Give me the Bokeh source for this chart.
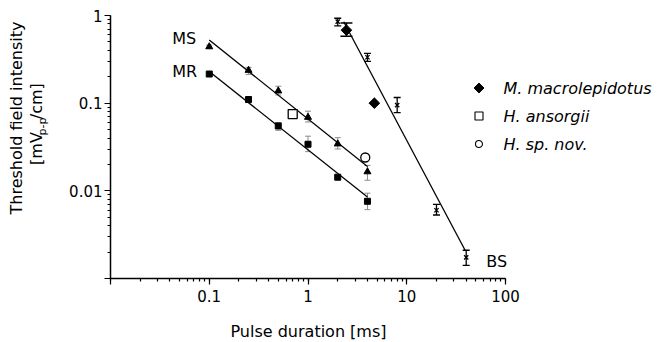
import math
from bokeh.plotting import figure
from bokeh.layouts import column, row
from bokeh.models import (ColumnDataSource, Whisker, TeeHead, Label, Range1d,
                          LogTicker, CustomJSTickFormatter)
from bokeh.embed import file_html
from bokeh.resources import INLINE

# ---------------- data ----------------
dur = [0.1, 0.25, 0.5, 1, 2, 4]
ms_y = [0.44, 0.237, 0.138, 0.069, 0.0343, 0.0165]
ms_lo = [0.42, 0.213, 0.124, 0.061, 0.030, 0.0132]
ms_hi = [0.46, 0.256, 0.156, 0.081, 0.0404, 0.0195]
mr_y = [0.215, 0.11, 0.055, 0.034, 0.0143, 0.0076]
mr_lo = [0.205, 0.103, 0.049, 0.028, 0.0137, 0.0061]
mr_hi = [0.226, 0.117, 0.060, 0.042, 0.0150, 0.0094]
ms_fit_x = [0.1, 4]
ms_fit_y = [0.526, 0.019]
mr_fit_x = [0.1, 4]
mr_fit_y = [0.23, 0.0085]

bs_x = [2, 4, 8, 20, 40]
bs_y = [0.85, 0.334, 0.095, 0.006, 0.00174]
bs_lo = [0.76, 0.30, 0.078, 0.0053, 0.00141]
bs_hi = [0.93, 0.37, 0.116, 0.0070, 0.0021]
bs_fit_x = [2.3, 39]
bs_fit_y = [0.85, 0.0021]

macro_x = [2.45, 4.7]
macro_y = [0.68, 0.10]
macro_err_x = [2.45]
macro_err_lo = [0.58]
macro_err_hi = [0.82]
ans_x = [0.7]
ans_y = [0.075]
nov_x = [3.8]
nov_y = [0.024]

species = ["M. macrolepidotus", "H. ansorgii", "H. sp. nov."]
group_labels = ["MS", "MR", "BS"]
x_bounds = (0.01, 100)
y_bounds = (0.001, 1)

# ---------------- layout geometry (page pixels) ----------------
TOTAL_W, TOTAL_H = 657, 342
LEFT_W = 64                # strip holding the y-axis title
FRAME_L, FRAME_T, FRAME_B, AXIS_R = 110, 15, 278, 505
MAIN_H = 308
MAIN_W = TOTAL_W - LEFT_W
FONT = "DejaVu Sans"

px_per_dec_x = (AXIS_R - FRAME_L) / (math.log10(x_bounds[1]) - math.log10(x_bounds[0]))
frame_w = MAIN_W - (FRAME_L - LEFT_W)
x_end = 10 ** (math.log10(x_bounds[0]) + frame_w / px_per_dec_x)
frame_h = FRAME_B - FRAME_T

p = figure(width=MAIN_W, height=MAIN_H, x_axis_type="log", y_axis_type="log",
           x_range=Range1d(x_bounds[0], x_end), y_range=Range1d(*y_bounds),
           output_backend="svg", toolbar_location=None, title=None,
           min_border_left=FRAME_L - LEFT_W, min_border_right=0,
           min_border_top=FRAME_T, min_border_bottom=MAIN_H - FRAME_B)
p.outline_line_color = None
p.grid.visible = False


def at(px, py):
    """page pixel -> data coordinates of the main plot (for text / key placement)"""
    lx0 = math.log10(x_bounds[0])
    ly0, ly1 = math.log10(y_bounds[0]), math.log10(y_bounds[1])
    x = 10 ** (lx0 + (px - FRAME_L) / px_per_dec_x)
    y = 10 ** (ly1 - (py - FRAME_T) / frame_h * (ly1 - ly0))
    return x, y


p.xaxis.ticker = LogTicker(num_minor_ticks=10)
p.yaxis.ticker = LogTicker(num_minor_ticks=10)
p.xaxis.formatter = CustomJSTickFormatter(
    code="return tick < 0.015 ? '' : String(Number(tick.toPrecision(6)));")
p.yaxis.formatter = CustomJSTickFormatter(
    code="return tick < 0.0015 ? '' : String(Number(tick.toPrecision(6)));")
p.xaxis.bounds = x_bounds
p.yaxis.bounds = y_bounds
for ax, so in ((p.xaxis, 5), (p.yaxis, 2)):
    ax.axis_line_width = 1.5
    ax.axis_line_color = "black"
    ax.major_tick_out = 6
    ax.major_tick_in = 0
    ax.minor_tick_out = 3
    ax.minor_tick_in = 0
    ax.major_tick_line_width = 1.2
    ax.minor_tick_line_width = 1.2
    ax.major_label_text_font = FONT
    ax.major_label_text_font_size = "15px"
    ax.major_label_text_color = "black"
    ax.major_label_standoff = so

# ---------------- error bars ----------------
ms_src = ColumnDataSource(dict(x=dur, y=ms_y, lo=ms_lo, hi=ms_hi))
mr_src = ColumnDataSource(dict(x=dur, y=mr_y, lo=mr_lo, hi=mr_hi))
bs_src = ColumnDataSource(dict(x=bs_x, y=bs_y, lo=bs_lo, hi=bs_hi))
mac_err_src = ColumnDataSource(dict(x=macro_err_x, lo=macro_err_lo, hi=macro_err_hi))

for src, col, cap, lw in ((ms_src, "#8c8c8c", 6, 1), (mr_src, "#8c8c8c", 6, 1),
                          (bs_src, "black", 7, 1.3), (mac_err_src, "black", 12, 1.5)):
    p.add_layout(Whisker(base="x", lower="lo", upper="hi", source=src, dimension="height",
                         line_color=col, line_width=lw,
                         upper_head=TeeHead(size=cap, line_color=col, line_width=lw),
                         lower_head=TeeHead(size=cap, line_color=col, line_width=lw)))

# ---------------- fit lines ----------------
for fx, fy in ((ms_fit_x, ms_fit_y), (mr_fit_x, mr_fit_y), (bs_fit_x, bs_fit_y)):
    p.line(fx, fy, line_color="black", line_width=1.3)

# ---------------- markers ----------------
p.scatter("x", "y", source=ms_src, marker="triangle", size=7, fill_color="black", line_color="black")
p.scatter("x", "y", source=mr_src, marker="square", size=6, fill_color="black", line_color="black")
p.scatter("x", "y", source=bs_src, marker="x", size=6, line_color="black", line_width=1.3)

mac_style = dict(marker="square", angle=math.pi / 4, size=7.5, fill_color="black", line_color="black")
ans_style = dict(marker="square", size=9, fill_color="white", line_color="black", line_width=1.3)
nov_style = dict(marker="circle", size=9, fill_color="white", line_color="black", line_width=1.3)
p.scatter(macro_x, macro_y, **mac_style)
p.scatter(ans_x, ans_y, **ans_style)
p.scatter(nov_x, nov_y, **nov_style)

# ---------------- key (legend) ----------------
key_styles = [dict(mac_style, size=7), dict(ans_style, size=8, line_width=1.1),
              dict(nov_style, size=7, line_width=1.1)]
key_rows_py = [87.5, 115.5, 143.5]
for name, st, py in zip(species, key_styles, key_rows_py):
    kx, ky = at(478.5, py)
    p.scatter([kx], [ky], **st)
    tx, ty = at(503, py)
    p.add_layout(Label(x=tx, y=ty, text=name, text_font=FONT, text_font_size="16px",
                       text_font_style="italic", text_align="left", text_baseline="middle",
                       text_color="black"))

# ---------------- group labels ----------------
for txt, (px, py) in zip(group_labels, [(171.7, 38), (171.7, 71), (485.7, 260.7)]):
    lx, ly = at(px, py)
    p.add_layout(Label(x=lx, y=ly, text=txt, text_font=FONT, text_font_size="16px",
                       text_align="left", text_baseline="middle", text_color="black"))


# ---------------- helper strips for axis titles ----------------
def strip(w, h):
    f = figure(width=w, height=h, x_range=Range1d(0, w), y_range=Range1d(h, 0),
               output_backend="svg", toolbar_location=None, title=None,
               x_axis_location=None, y_axis_location=None,
               min_border_left=0, min_border_right=0, min_border_top=0, min_border_bottom=0)
    f.outline_line_color = None
    f.grid.visible = False
    return f


pl = strip(LEFT_W, MAIN_H)
rot = math.pi / 2
ylab = dict(angle=rot, text_font=FONT, text_align="left", text_baseline="middle",
            text_color="black")
pl.add_layout(Label(x=16, y=233, text="Threshold field intensity", text_font_size="16px", **ylab))
pl.add_layout(Label(x=36.3, y=175, text="[mV", text_font_size="16px", **ylab))
pl.add_layout(Label(x=42, y=140.5, text="p-p", text_font_size="11px", **ylab))
pl.add_layout(Label(x=36.3, y=121.5, text="/cm]", text_font_size="16px", **ylab))

pb = strip(TOTAL_W, TOTAL_H - MAIN_H)
pb.add_layout(Label(x=308, y=331 - MAIN_H, text="Pulse duration [ms]", text_font=FONT,
                    text_font_size="16px", text_align="center", text_baseline="middle",
                    text_color="black"))

layout = column(row(pl, p, spacing=0), pb, spacing=0)
open("out.html", "w").write(file_html(layout, INLINE))
